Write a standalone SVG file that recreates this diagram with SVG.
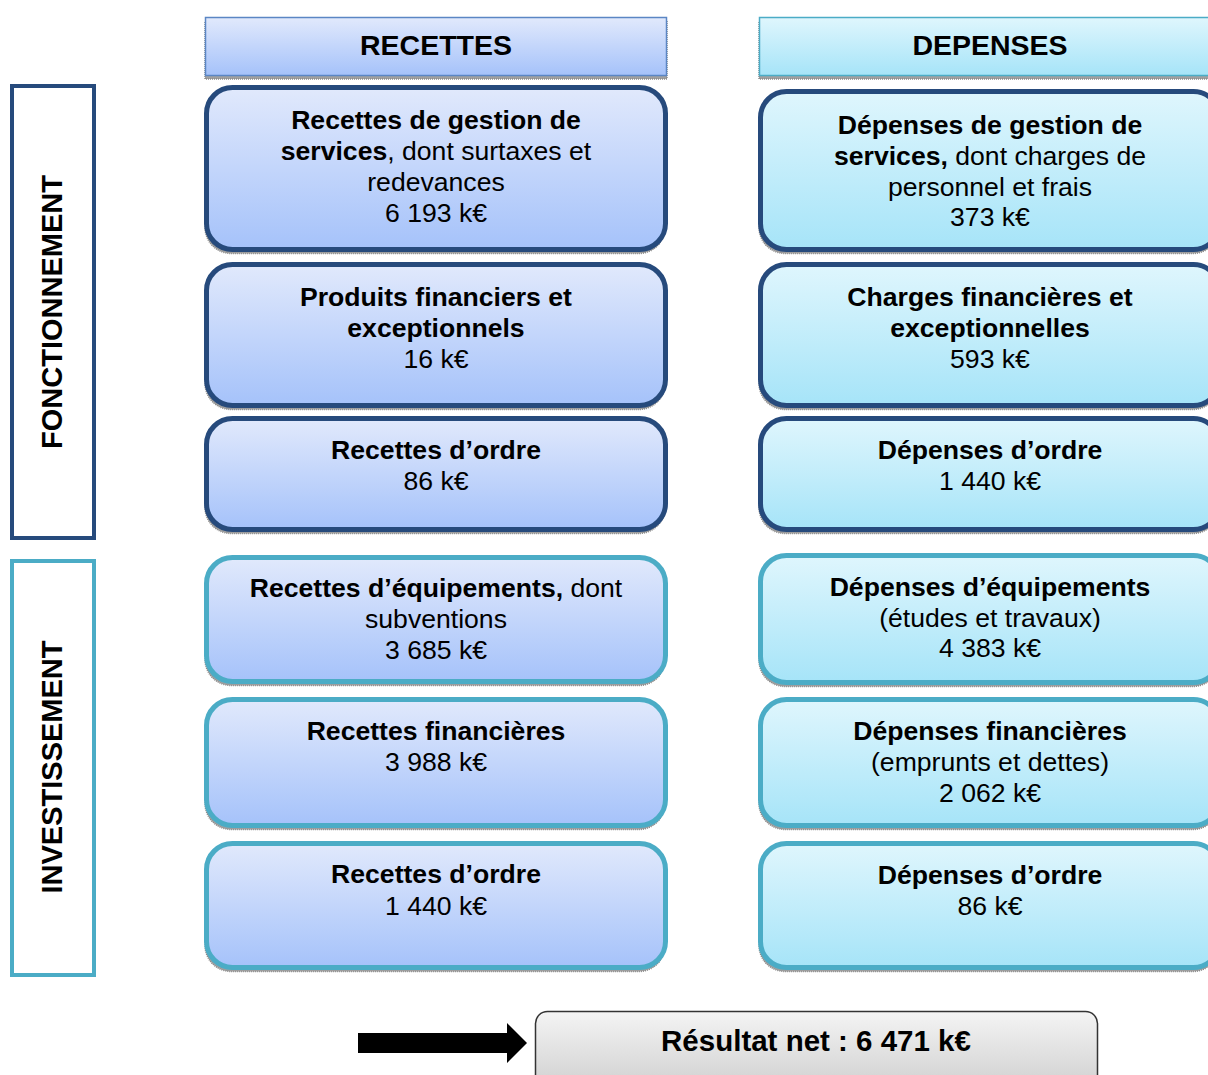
<svg xmlns="http://www.w3.org/2000/svg" width="1208" height="1075" viewBox="0 0 1208 1075">
<style>
text{font-family:"Liberation Sans",Arial,sans-serif;fill:#000;text-anchor:middle}
.t{font-size:26.6px}
.b{font-weight:bold}
.h{font-size:28.5px;font-weight:bold}
.s{font-size:29px;font-weight:bold}
.fb{stroke:#264a7c;stroke-width:5}
.ib{stroke:#4bacc6;stroke-width:5}
.rec{fill:url(#gRec)}
.dep{fill:url(#gDep)}
.sh{fill:#a0a0a0;stroke:#8a8a8a;stroke-width:1.5;stroke-dasharray:1 1}
</style>
<defs>
<linearGradient id="gRec" x1="0" y1="0" x2="0" y2="1">
<stop offset="0" stop-color="#e1e9fc"/>
<stop offset="1" stop-color="#a5c2fa"/>
</linearGradient>
<linearGradient id="gDep" x1="0" y1="0" x2="0" y2="1">
<stop offset="0" stop-color="#dff6fd"/>
<stop offset="1" stop-color="#a6e4f8"/>
</linearGradient>
<linearGradient id="gRes" x1="0" y1="0" x2="0" y2="1">
<stop offset="0" stop-color="#f4f4f4"/>
<stop offset="1" stop-color="#cfcfcf"/>
</linearGradient>
</defs>

<g id="side-fonctionnement">
<rect x="12" y="86" width="82" height="452" fill="#fff" stroke="#264a7c" stroke-width="4"/>
<text class="s" transform="translate(62,312) rotate(-90)">FONCTIONNEMENT</text>
</g>
<g id="side-investissement">
<rect x="12" y="561" width="82" height="414" fill="#fff" stroke="#4bacc6" stroke-width="4"/>
<text class="s" transform="translate(62,767) rotate(-90)">INVESTISSEMENT</text>
</g>

<g id="header-recettes">
<rect x="205" y="21" width="462" height="58" class="sh"/>
<rect x="205.5" y="17.5" width="461" height="58" class="rec" stroke="#5b86c4" stroke-width="1.5"/>
<text class="h" x="436" y="55">RECETTES</text>
</g>
<g id="header-depenses">
<rect x="759" y="21" width="460" height="58" class="sh"/>
<rect x="759.5" y="17.5" width="460" height="58" class="dep" stroke="#4bacc6" stroke-width="1.5"/>
<text class="h" x="990" y="55">DEPENSES</text>
</g>

<g id="rec1">
<rect x="205" y="91.5" width="460" height="162" rx="26" class="sh"/>
<rect x="206.5" y="87.5" width="459" height="162" rx="26" class="rec fb"/>
<text class="t" x="436" y="129"><tspan class="b">Recettes de gestion de</tspan></text>
<text class="t" x="436" y="160"><tspan class="b">services</tspan>, dont surtaxes et</text>
<text class="t" x="436" y="191">redevances</text>
<text class="t" x="436" y="222">6 193 k€</text>
</g>
<g id="rec2">
<rect x="205" y="268.5" width="460" height="141" rx="26" class="sh"/>
<rect x="206.5" y="264.5" width="459" height="141" rx="26" class="rec fb"/>
<text class="t b" x="436" y="306">Produits financiers et</text>
<text class="t b" x="436" y="337">exceptionnels</text>
<text class="t" x="436" y="368">16 k€</text>
</g>
<g id="rec3">
<rect x="205" y="422.5" width="460" height="111" rx="26" class="sh"/>
<rect x="206.5" y="418.5" width="459" height="111" rx="26" class="rec fb"/>
<text class="t b" x="436" y="459">Recettes d’ordre</text>
<text class="t" x="436" y="490">86 k€</text>
</g>
<g id="rec4">
<rect x="205" y="561.5" width="460" height="124" rx="26" class="sh"/>
<rect x="206.5" y="557.5" width="459" height="124" rx="26" class="rec ib"/>
<text class="t" x="436" y="597"><tspan class="b">Recettes d’équipements,</tspan> dont</text>
<text class="t" x="436" y="628">subventions</text>
<text class="t" x="436" y="659">3 685 k€</text>
</g>
<g id="rec5">
<rect x="205" y="703.5" width="460" height="126" rx="26" class="sh"/>
<rect x="206.5" y="699.5" width="459" height="126" rx="26" class="rec ib"/>
<text class="t b" x="436" y="740">Recettes financières</text>
<text class="t" x="436" y="771">3 988 k€</text>
</g>
<g id="rec6">
<rect x="205" y="847.5" width="460" height="124" rx="26" class="sh"/>
<rect x="206.5" y="843.5" width="459" height="124" rx="26" class="rec ib"/>
<text class="t b" x="436" y="883">Recettes d’ordre</text>
<text class="t" x="436" y="915">1 440 k€</text>
</g>

<g id="dep1">
<rect x="759" y="95.5" width="460" height="158" rx="26" class="sh"/>
<rect x="760.5" y="91.5" width="459" height="158" rx="26" class="dep fb"/>
<text class="t b" x="990" y="134">Dépenses de gestion de</text>
<text class="t" x="990" y="165"><tspan class="b">services,</tspan> dont charges de</text>
<text class="t" x="990" y="196">personnel et frais</text>
<text class="t" x="990" y="226">373 k€</text>
</g>
<g id="dep2">
<rect x="759" y="268.5" width="460" height="141" rx="26" class="sh"/>
<rect x="760.5" y="264.5" width="459" height="141" rx="26" class="dep fb"/>
<text class="t b" x="990" y="306">Charges financières et</text>
<text class="t b" x="990" y="337">exceptionnelles</text>
<text class="t" x="990" y="368">593 k€</text>
</g>
<g id="dep3">
<rect x="759" y="422.5" width="460" height="111" rx="26" class="sh"/>
<rect x="760.5" y="418.5" width="459" height="111" rx="26" class="dep fb"/>
<text class="t b" x="990" y="459">Dépenses d’ordre</text>
<text class="t" x="990" y="490">1 440 k€</text>
</g>
<g id="dep4">
<rect x="759" y="559.5" width="460" height="127" rx="26" class="sh"/>
<rect x="760.5" y="555.5" width="459" height="127" rx="26" class="dep ib"/>
<text class="t b" x="990" y="596">Dépenses d’équipements</text>
<text class="t" x="990" y="627">(études et travaux)</text>
<text class="t" x="990" y="657">4 383 k€</text>
</g>
<g id="dep5">
<rect x="759" y="703.5" width="460" height="126" rx="26" class="sh"/>
<rect x="760.5" y="699.5" width="459" height="126" rx="26" class="dep ib"/>
<text class="t b" x="990" y="740">Dépenses financières</text>
<text class="t" x="990" y="771">(emprunts et dettes)</text>
<text class="t" x="990" y="802">2 062 k€</text>
</g>
<g id="dep6">
<rect x="759" y="847.5" width="460" height="124" rx="26" class="sh"/>
<rect x="760.5" y="843.5" width="459" height="124" rx="26" class="dep ib"/>
<text class="t b" x="990" y="884">Dépenses d’ordre</text>
<text class="t" x="990" y="915">86 k€</text>
</g>

<g id="connectors">
<polygon points="358,1033 507,1033 507,1023 527,1043 507,1063 507,1053 358,1053" fill="#000"/>
</g>

<g id="resultat">
<rect x="535.5" y="1011.5" width="562" height="80" rx="12" fill="url(#gRes)" stroke="#333" stroke-width="1.5"/>
<text class="b" x="816" y="1051" style="font-size:29.5px">Résultat net : 6 471 k€</text>
</g>
</svg>
